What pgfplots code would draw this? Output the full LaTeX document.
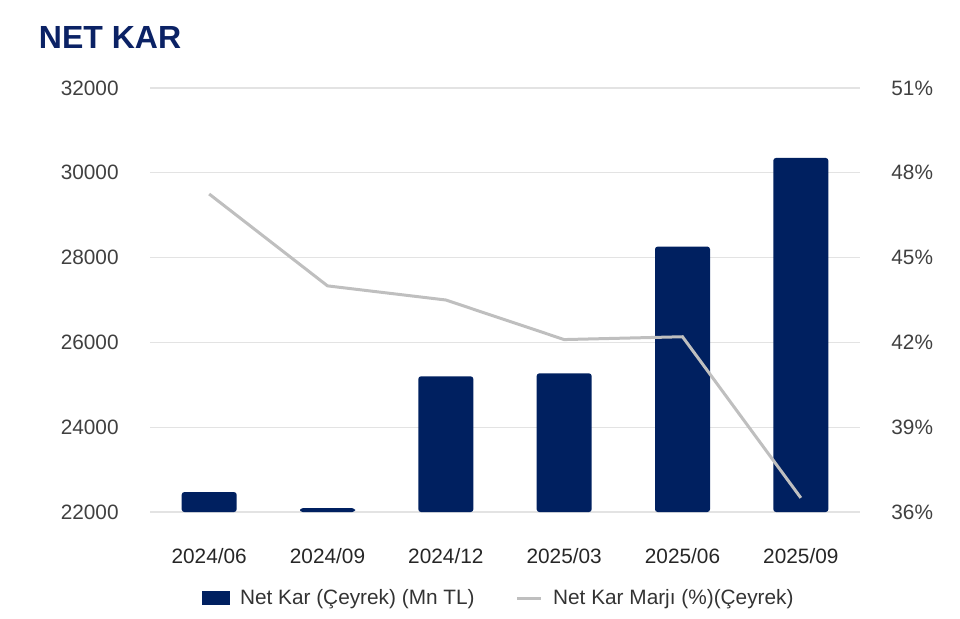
\documentclass[border=0pt]{standalone}
\usepackage{fontspec}
\setmainfont{Liberation Sans}
\usepackage{pgfplots}
\pgfplotsset{compat=1.18}
\definecolor{navy}{HTML}{002060}
\definecolor{titlenavy}{HTML}{0B2265}
\definecolor{lgray}{HTML}{BFBFBF}
\definecolor{gridc}{HTML}{E3E3E3}
\definecolor{tickc}{HTML}{404040}
\begin{document}
\begin{tikzpicture}
\path[use as bounding box] (0,0) rectangle (720pt,463.5pt);
\node[anchor=base west, font=\fontsize{24}{28}\selectfont\bfseries, text=titlenavy, inner sep=0pt] at (29pt,427pt) {NET KAR};
\begin{axis}[
  at={(112.5pt,79.5pt)}, anchor=south west,
  scale only axis, width=532.5pt, height=318pt,
  xmin=-0.5, xmax=5.5, ymin=22000, ymax=32000,
  xtick={0,...,5}, xticklabels={2024/06,2024/09,2024/12,2025/03,2025/06,2025/09},
  ytick={22000,24000,...,32000},
  scaled y ticks=false,
  ymajorgrids, grid style={gridc, line width=0.9pt},
  axis line style={draw=none}, major tick length=0pt,
  tick label style={font=\fontsize{15.6}{18}\selectfont},
  /pgf/number format/assume math mode=true,
  /pgf/number format/fixed,
  /pgf/number format/set thousands separator={},
  yticklabel style={text=tickc, xshift=-20pt},
  xticklabel style={text=black!85, yshift=-24pt},
]
\addplot[ybar, bar width=41.25pt, bar shift=0pt, fill=navy, draw=none, rounded corners=2pt] coordinates {(0,22470) (1,22090) (2,25200) (3,25270) (4,28260) (5,30350)};
\end{axis}
\begin{axis}[
  at={(112.5pt,79.5pt)}, anchor=south west,
  scale only axis, width=532.5pt, height=318pt,
  xmin=-0.5, xmax=5.5, ymin=36, ymax=51,
  ytick={36,39,...,51},
  axis x line=none, axis y line*=right, axis line style={draw=none}, major tick length=0pt,
  /pgf/number format/assume math mode=true,
  yticklabel={\pgfmathprintnumber{\tick}\%},
  yticklabel style={text=tickc, xshift=20pt, font=\fontsize{15.6}{18}\selectfont},
  legend style={at={(0.492,-0.203)}, anchor=center, draw=none, fill=none, text=black!80,
    font=\fontsize{15.6}{18}\selectfont, legend columns=2,
    /tikz/every even column/.append style={column sep=29pt}},
  legend cell align=left,
]
\addlegendimage{legend image code/.code={\path[draw=none, fill=none] (0pt,0pt) -- (26pt,0pt); \fill[navy] (0pt,-5pt) rectangle (20pt,5pt);}}
\addlegendentry{Net Kar (Çeyrek) (Mn TL)}
\addplot[lgray, line width=2.25pt, mark=none, legend image code/.code={\path[draw=none] (0pt,0pt) -- (24.75pt,0pt); \draw[lgray, line width=2.25pt] (0pt,0pt) -- (18pt,0pt);}] coordinates {(0,47.25) (1,44.0) (2,43.5) (3,42.1) (4,42.2) (5,36.5)};
\addlegendentry{Net Kar Marjı (\%)(Çeyrek)}
\end{axis}
\end{tikzpicture}
\end{document}
